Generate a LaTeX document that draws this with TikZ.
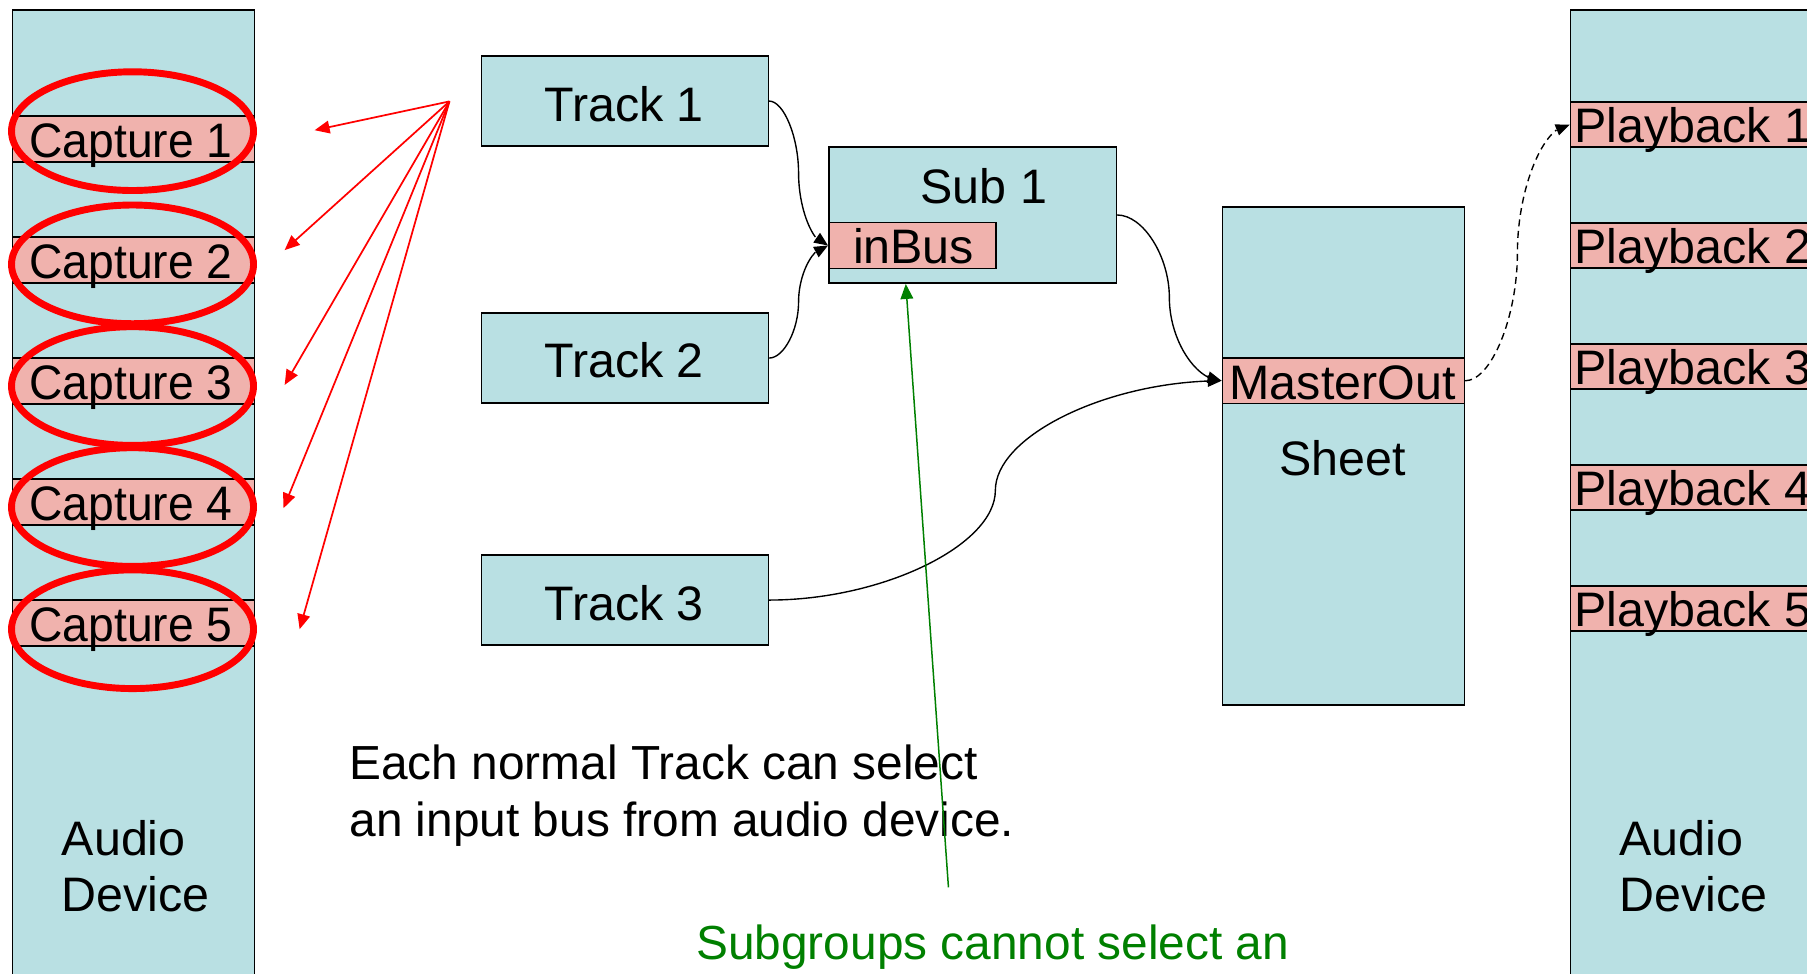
\documentclass[tikz,border=0pt]{standalone}
\usepackage{fontspec}
\usepackage{graphicx}
\setmainfont{Liberation Sans}
\usetikzlibrary{arrows.meta,bending,calc}
\definecolor{boxblue}{RGB}{185,224,227}
\definecolor{strippink}{RGB}{240,178,173}
\definecolor{dkgreen}{RGB}{0,128,0}
\newcommand{\narrowtext}[1]{\scalebox{0.955}[1]{#1}}
\tikzset{
  panel/.style={draw=black, line width=1.4pt, fill=boxblue, rectangle, inner sep=0pt, anchor=north west},
  strip/.style={draw=black, line width=1.4pt, fill=strippink, rectangle, inner sep=0pt, anchor=north west},
  lbl/.style={inner sep=0pt, font=\fontsize{42}{49}\selectfont},
  note/.style={inner sep=0pt, font=\fontsize{41.5}{46}\selectfont, anchor=base west},
  ring/.style={draw=red, line width=6pt},
  redarrow/.style={draw=red, line width=1.5pt, -{Triangle[length=13pt,width=11pt]}},
  conn/.style={draw=black, line width=1.2pt, -{Triangle[length=12pt,width=10pt,flex]}},
  dconn/.style={conn, dash pattern=on 6pt off 4pt},
  greenarrow/.style={draw=dkgreen, line width=1.3pt, -{Triangle[length=13pt,width=11pt]}},
  curvedconn/.style={to path={let \p1=(\tikztostart), \p2=(\tikztotarget) in
      .. controls ({(3*\x1+\x2)/4},\y1) and ({(\x1+\x2)/2},{(3*\y1+\y2)/4})
      .. ({(\x1+\x2)/2},{(\y1+\y2)/2})
      .. controls ({(\x1+\x2)/2},{(\y1+3*\y2)/4}) and ({(\x1+3*\x2)/4},\y2)
      .. (\tikztotarget)}},
}
\begin{document}
\begin{tikzpicture}[x=1pt,y=-1pt]
\useasboundingbox (0,0) rectangle (1568,845);
\clip (0,0) rectangle (1568,845);
\fill[white] (0,0) rectangle (1568,845);

% left audio device
\node[panel, minimum width=210pt, minimum height=900pt] (devL) at (10,8) {};
\node[strip, minimum width=210pt, minimum height=40pt] (cs1) at (10,100) {};
\node[strip, minimum width=210pt, minimum height=40pt] (cs2) at (10,205) {};
\node[strip, minimum width=210pt, minimum height=40pt] (cs3) at (10,310) {};
\node[strip, minimum width=210pt, minimum height=40pt] (cs4) at (10,415) {};
\node[strip, minimum width=210pt, minimum height=40pt] (cs5) at (10,520) {};
\node[lbl, anchor=base west] (cl1) at (25.5,137) {\narrowtext{Capture 1}};
\node[lbl, anchor=base west] (cl2) at (25.5,242) {\narrowtext{Capture 2}};
\node[lbl, anchor=base west] (cl3) at (25.5,347) {\narrowtext{Capture 3}};
\node[lbl, anchor=base west] (cl4) at (25.5,452) {\narrowtext{Capture 4}};
\node[lbl, anchor=base west] (cl5) at (25.5,557) {\narrowtext{Capture 5}};
\node[lbl, anchor=base west] (adL1) at (53.5,742) {Audio};
\node[lbl, anchor=base west] (adL2) at (53.5,791) {Device};

\draw[ring] (115,113.8) ellipse [x radius=105pt, y radius=51.5pt];
\draw[ring] (115,229.4) ellipse [x radius=105pt, y radius=51.5pt];
\draw[ring] (115,335) ellipse [x radius=105pt, y radius=51.5pt];
\draw[ring] (115,440) ellipse [x radius=105pt, y radius=51.5pt];
\draw[ring] (115,546) ellipse [x radius=105pt, y radius=51.5pt];

% right audio device
\node[panel, minimum width=260pt, minimum height=900pt] (devR) at (1362,8) {};
\node[strip, minimum width=260pt, minimum height=39pt] (ps1) at (1362,88) {};
\node[strip, minimum width=260pt, minimum height=39pt] (ps2) at (1362,193) {};
\node[strip, minimum width=260pt, minimum height=39pt] (ps3) at (1362,298) {};
\node[strip, minimum width=260pt, minimum height=39pt] (ps4) at (1362,403) {};
\node[strip, minimum width=260pt, minimum height=39pt] (ps5) at (1362,508) {};
\node[lbl, anchor=base west] (pl1) at (1366,124) {Playback 1};
\node[lbl, anchor=base west] (pl2) at (1366,229) {Playback 2};
\node[lbl, anchor=base west] (pl3) at (1366,334) {Playback 3};
\node[lbl, anchor=base west] (pl4) at (1366,439) {Playback 4};
\node[lbl, anchor=base west] (pl5) at (1366,544) {Playback 5};
\node[lbl, anchor=base west] (adR1) at (1405,742) {Audio};
\node[lbl, anchor=base west] (adR2) at (1405,791) {Device};

% tracks
\node[panel, minimum width=249pt, minimum height=78pt] (tr1) at (417,48) {};
\node[panel, minimum width=249pt, minimum height=78pt] (tr2) at (417,271) {};
\node[panel, minimum width=249pt, minimum height=78pt] (tr3) at (417,481) {};
\node[lbl, anchor=base] (tl1) at (541.5,105) {Track 1};
\node[lbl, anchor=base] (tl2) at (541.5,328) {Track 2};
\node[lbl, anchor=base] (tl3) at (541.5,538) {Track 3};

% subgroup
\node[panel, minimum width=249.5pt, minimum height=118.3pt] (sub) at (718.5,126.7) {};
\node[strip, minimum width=145pt, minimum height=39.9pt] (inbus) at (718.5,192.4) {};
\node[lbl, anchor=base] (subl) at (853.7,176.4) {Sub 1};
\node[lbl, anchor=base west] (inbusl) at (740,228.5) {inBus};

% sheet
\node[panel, minimum width=210pt, minimum height=432pt] (sheet) at (1060,179) {};
\node[strip, minimum width=210pt, minimum height=39.4pt] (mout) at (1060,310) {};
\node[lbl, anchor=base] (moutl) at (1165,347) {MasterOut};
\node[lbl, anchor=base] (sheetl) at (1165,413) {Sheet};

% red arrows
\coordinate (rsrc) at (390,88);
\coordinate (rt1) at (273,113);
\coordinate (rt2) at (247,217);
\coordinate (rt3) at (247,334);
\coordinate (rt4) at (246,441);
\coordinate (rt5) at (260,546);
\draw[redarrow] (rsrc) -- (rt1);
\draw[redarrow] (rsrc) -- (rt2);
\draw[redarrow] (rsrc) -- (rt3);
\draw[redarrow] (rsrc) -- (rt4);
\draw[redarrow] (rsrc) -- (rt5);

% black connectors
\draw[conn] (tr1.east) to[curvedconn] (inbus.west);
\draw[conn] (tr2.east) to[curvedconn] (inbus.west);
\draw[conn] (sub.east) to[curvedconn] (mout.west);
\draw[conn] (tr3.east) to[curvedconn] (mout.west);
\draw[dconn] (mout.east) to[curvedconn] (ps1.west);

% notes
\node[note] (n1) at (303,676) {Each normal Track can select};
\node[note] (n2) at (303,726) {an input bus from audio device.};
\node[note, text=dkgreen] (n3) at (604,833) {Subgroups cannot select an};

% green arrow
\coordinate (gstart) at (823,770);
\draw[greenarrow] (gstart) -- ([xshift=67.5pt]sub.south west);
\end{tikzpicture}
\end{document}
